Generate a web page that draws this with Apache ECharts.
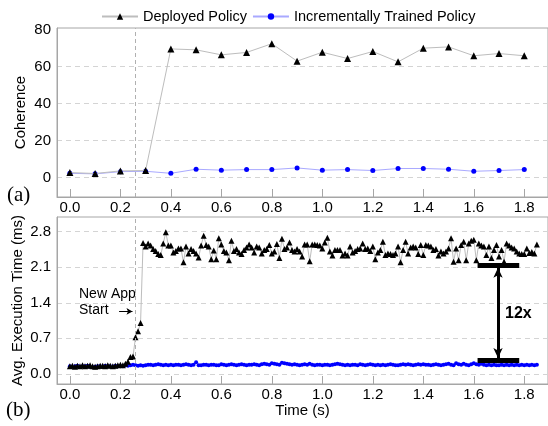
<!DOCTYPE html>
<html><head><meta charset="utf-8">
<script src="https://cdn.jsdelivr.net/npm/echarts@6/dist/echarts.min.js"></script>
<style>html,body{margin:0;padding:0;background:#fff}#c{width:548px;height:426px}</style>
</head><body><div id="c"></div>
<script>
// ---- Data ----
const seriesNames = ['Deployed Policy', 'Incrementally Trained Policy'];
// (a) Coherence
const coherenceTime = [0.0,0.1,0.2,0.3,0.4,0.5,0.6,0.7,0.8,0.9,1.0,1.1,1.2,1.3,1.4,1.5,1.6,1.7,1.8];
const coherenceDeployed = [2.7,2.2,3.6,3.8,69.5,69.0,66.3,67.6,72.3,62.9,67.7,64.3,68.1,62.5,69.9,70.6,65.8,67.0,65.8];
const coherenceIncremental = [2.3,2.0,3.2,3.4,2.3,4.5,4.0,4.3,4.3,5.2,4.0,4.3,3.8,4.9,4.9,4.5,3.4,3.8,4.3];
const coherenceTicks = [0,20,40,60,80];
// (b) Avg. execution time, sampled every 10 ms starting at 0 s
const execStart = 0.0, execStep = 0.01;
const execDeployed = [
 0.15,0.16,0.14,0.16,0.15,0.17,0.15,0.16,0.17,0.15,0.14,0.15,0.16,0.16,0.15,0.17,0.16,0.15,0.16,0.17,0.18,0.17,0.20,0.24,
 0.33,0.34,0.72,0.84,1.00,2.58,2.51,
 2.57,2.53,2.46,2.42,2.36,2.34,2.57,2.79,2.53,2.53,2.39,2.42,2.47,2.47,2.20,2.51,2.37,2.46,2.42,2.37,2.29,2.53,2.72,2.54,2.51,2.26,2.43,2.26,2.67,2.55,2.42,2.39,2.24,2.62,2.42,2.46,2.39,2.36,
 2.44,2.49,2.55,2.49,2.39,2.51,2.49,2.37,2.44,2.46,2.54,2.37,2.41,2.56,2.28,2.66,2.46,2.49,2.59,2.44,2.41,2.46,2.41,2.31,2.55,2.55,2.22,2.55,2.55,2.54,2.53,2.47,2.59,2.68,2.41,2.33,2.44,
 2.44,2.44,2.33,2.37,2.33,2.51,2.39,2.42,2.46,2.47,2.57,2.46,2.47,2.42,2.51,2.26,2.39,2.44,2.60,2.34,2.37,2.36,2.34,2.37,2.51,2.20,2.44,2.60,2.37,2.49,2.51,2.49,2.36,2.54,2.34,2.54,2.53,
 2.51,2.44,2.46,2.33,2.41,2.37,2.41,2.47,2.67,2.21,2.47,2.24,2.54,2.60,2.24,2.57,2.62,2.64,2.24,2.57,2.53,2.51,2.34,2.51,2.28,2.44,2.54,2.31,2.44,2.21,2.57,2.53,2.49,2.47,2.41,2.37,2.36,2.36,2.47,
 2.38,2.40,2.37,2.55];
const execIncremental = [
 0.15,0.14,0.15,0.16,0.14,0.15,0.15,0.16,0.14,0.13,
 0.14,0.15,0.15,0.14,0.16,0.15,0.15,0.14,0.16,0.15,
 0.16,0.15,0.17,0.16,0.17,0.18,0.17,0.16,0.17,0.16,
 0.17,0.18,0.18,0.17,0.18,0.19,0.18,0.17,0.18,0.17,
 0.18,0.17,0.18,0.18,0.17,0.18,0.19,0.18,0.17,0.18,
 0.23,0.17,0.17,0.18,0.18,0.17,0.18,0.18,0.17,0.17,
 0.19,0.18,0.17,0.18,0.19,0.18,0.17,0.18,0.19,0.18,
 0.17,0.18,0.18,0.19,0.18,0.17,0.19,0.20,0.19,0.18,
 0.21,0.20,0.19,0.18,0.22,0.21,0.20,0.19,0.18,0.19,
 0.18,0.17,0.18,0.19,0.18,0.20,0.18,0.17,0.18,0.18,
 0.17,0.18,0.18,0.17,0.18,0.19,0.20,0.19,0.18,0.17,
 0.18,0.17,0.18,0.18,0.17,0.19,0.18,0.17,0.18,0.19,
 0.18,0.17,0.18,0.17,0.18,0.17,0.18,0.19,0.18,0.17,
 0.17,0.18,0.19,0.18,0.19,0.18,0.17,0.18,0.19,0.18,
 0.19,0.18,0.18,0.17,0.18,0.19,0.18,0.17,0.18,0.19,
 0.20,0.18,0.17,0.21,0.19,0.18,0.20,0.18,0.17,0.19,
 0.21,0.19,0.18,0.20,0.18,0.17,0.18,0.17,0.18,0.17,
 0.17,0.18,0.17,0.18,0.17,0.18,0.17,0.18,0.17,0.18,
 0.17,0.18,0.17,0.18,0.17,0.18];
const execTicks = [0.0,0.7,1.4,2.1,2.8];
const timeTicks = [0.0,0.2,0.4,0.6,0.8,1.0,1.2,1.4,1.6,1.8];
const newAppStart = 0.26;
const speedupLabel = '12x';

// ---- Build ----
const pair = (xs, ys) => ys.map((y, i) => [xs[i], y]);
const execTime = execDeployed.map((_, i) => +(execStart + i * execStep).toFixed(2));

const FONT = '"Liberation Sans", Arial, sans-serif';
const SERIF = '"Liberation Serif", "Times New Roman", serif';
const AX = '#a6a6a6';
const GRIDC = '#d4d4d4';
const BLACK_LINE = '#bdbdbd';
const BLUE_LINE = '#a9a9ff';

function xAxisCfg(gridIndex, withName) {
  return {
    gridIndex, type: 'value', min: -0.051, max: 1.894,
    axisLine: { show: true, onZero: false, lineStyle: { color: AX } },
    axisTick: { show: true, inside: true, length: 8, customValues: timeTicks, lineStyle: { color: AX } },
    axisLabel: { customValues: timeTicks, formatter: v => v.toFixed(1), color: '#000', fontSize: 15, fontFamily: FONT, margin: 3 },
    splitLine: { show: false },
    name: withName ? 'Time (s)' : '', nameLocation: 'middle', nameGap: 19, nameMoveOverlap: false,
    nameTextStyle: { color: '#000', fontSize: 15, fontFamily: FONT }
  };
}

const option = {
  animation: false,
  backgroundColor: '#fff',
  legend: {
    left: 96, top: 4, itemWidth: 36, itemHeight: 8, itemGap: 5,
    textStyle: { color: '#000', fontSize: 14.5, fontFamily: FONT },
    data: seriesNames
  },
  grid: [
    { left: 57, right: -2, top: 28, height: 169, show: true, borderColor: AX, borderWidth: 1 },
    { left: 57, right: -2, top: 217, height: 167, show: true, borderColor: AX, borderWidth: 1 }
  ],
  xAxis: [xAxisCfg(0, false), xAxisCfg(1, true)],
  yAxis: [
    { gridIndex: 0, type: 'value', min: -10.5, max: 80.8,
      axisLine: { show: true, onZero: false, lineStyle: { color: AX } },
      axisTick: { show: false, customValues: [0,20,40,60] },
      axisLabel: { customValues: coherenceTicks, color: '#000', fontSize: 15, fontFamily: FONT, margin: 6 },
      splitLine: { show: true, lineStyle: { color: GRIDC, type: [5, 4] } },
      name: 'Coherence', nameLocation: 'middle', nameGap: 29, nameMoveOverlap: false,
      nameTextStyle: { color: '#000', fontSize: 15, fontFamily: FONT } },
    { gridIndex: 1, type: 'value', min: -0.2, max: 3.09,
      axisLine: { show: true, onZero: false, lineStyle: { color: AX } },
      axisTick: { show: false, customValues: execTicks },
      axisLabel: { customValues: execTicks, formatter: v => v.toFixed(1), color: '#000', fontSize: 15, fontFamily: FONT, margin: 6 },
      splitLine: { show: true, lineStyle: { color: GRIDC, type: [5, 4] } },
      name: 'Avg. Execution Time (ms)', nameLocation: 'middle', nameGap: 32, nameMoveOverlap: false,
      nameTextStyle: { color: '#000', fontSize: 15, fontFamily: FONT } }
  ],
  series: [
    { name: seriesNames[0], type: 'line', xAxisIndex: 0, yAxisIndex: 0, z: 4,
      data: pair(coherenceTime, coherenceDeployed),
      symbol: 'triangle', symbolSize: 7, showAllSymbol: true,
      itemStyle: { color: '#000' }, lineStyle: { color: BLACK_LINE, width: 1 } },
    { name: seriesNames[1], type: 'line', xAxisIndex: 0, yAxisIndex: 0, z: 3,
      data: pair(coherenceTime, coherenceIncremental),
      symbol: 'circle', symbolSize: 5, showAllSymbol: true,
      itemStyle: { color: '#0000ff' }, lineStyle: { color: BLUE_LINE, width: 1 },
      markLine: { silent: true, symbol: 'none', label: { show: false },
        lineStyle: { color: '#b0b0b0', type: [4, 3], width: 1 },
        data: [{ xAxis: newAppStart }] } },
    { name: seriesNames[0], type: 'line', xAxisIndex: 1, yAxisIndex: 1, z: 4,
      data: pair(execTime, execDeployed),
      symbol: 'triangle', symbolSize: 6, showAllSymbol: true,
      itemStyle: { color: '#000' }, lineStyle: { color: BLACK_LINE, width: 1 } },
    { name: seriesNames[1], type: 'line', xAxisIndex: 1, yAxisIndex: 1, z: 3,
      data: pair(execTime, execIncremental),
      symbol: 'circle', symbolSize: 4, showAllSymbol: true,
      itemStyle: { color: '#0000ff' }, lineStyle: { color: BLUE_LINE, width: 1 },
      markLine: { silent: true, symbol: 'none', label: { show: false },
        lineStyle: { color: '#b0b0b0', type: [4, 3], width: 1 },
        data: [
          { xAxis: newAppStart },
          [ { coord: [1.615, 2.14], lineStyle: { color: '#000', type: 'solid', width: 5 } }, { coord: [1.78, 2.14] } ],
          [ { coord: [1.615, 0.26], lineStyle: { color: '#000', type: 'solid', width: 5 } }, { coord: [1.78, 0.26] } ],
          [ { coord: [1.696, 2.09], symbol: 'arrow', symbolSize: [7, 10], lineStyle: { color: '#000', type: 'solid', width: 3 } },
            { coord: [1.696, 0.31], symbol: 'arrow', symbolSize: [7, 10] } ],
          [ { coord: [0.195, 1.23], symbol: 'none', lineStyle: { color: '#000', type: 'solid', width: 1 } },
            { coord: [0.248, 1.23], symbol: 'arrow', symbolSize: [5, 6] } ]
        ] } }
  ],
  graphic: [
    { type: 'text', x: 7, y: 195, style: { text: '(a)', font: '21px ' + SERIF, fill: '#000', verticalAlign: 'middle' } },
    { type: 'text', x: 6, y: 410, style: { text: '(b)', font: '21px ' + SERIF, fill: '#000', verticalAlign: 'middle' } },
    { type: 'text', x: 79, y: 294, style: { text: 'New App', font: '14px ' + FONT, fill: '#000', verticalAlign: 'middle' } },
    { type: 'text', x: 79, y: 310, style: { text: 'Start', font: '14px ' + FONT, fill: '#000', verticalAlign: 'middle' } },
    { type: 'text', x: 505, y: 314, style: { text: speedupLabel, font: 'bold 16px ' + FONT, fill: '#000', verticalAlign: 'middle' } }
  ]
};
const chart = echarts.init(document.getElementById('c'), null, { renderer: 'canvas' });
chart.setOption(option);
</script></body></html>
